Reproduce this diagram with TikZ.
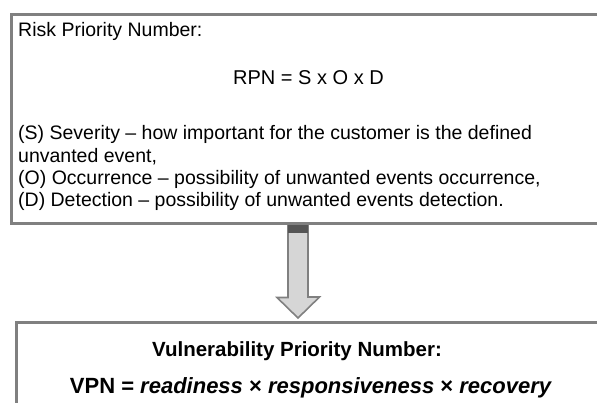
\documentclass[tikz,border=0pt]{standalone}
\usepackage{fontspec}
\setmainfont{Liberation Sans}
\usetikzlibrary{positioning,calc}
\definecolor{framegray}{RGB}{128,128,128}
\definecolor{shaftgray}{RGB}{214,214,214}
\definecolor{capgray}{RGB}{85,85,85}
\begin{document}
\begin{tikzpicture}[x=1pt,y=-1pt,
    box/.style={draw=framegray, line width=3pt, rectangle, anchor=north west, inner sep=0pt},
    txt/.style={font=\fontsize{19.5}{22.5}\selectfont, inner sep=0pt, anchor=base west},
    bigtxt/.style={font=\fontsize{21}{24}\selectfont\bfseries, inner sep=0pt, anchor=base},
    blockarrow/.style={draw=framegray, line width=1.6pt, fill=shaftgray, line join=miter}]
    \useasboundingbox (0,0) rectangle (597,403);
    \clip (0,0) rectangle (597,403);
    % the two frames (both run off the right edge)
    \node[box, minimum width=640pt, minimum height=208.5pt] (rpnbox) at (9.5,13.5) {};
    \node[box, minimum width=640pt, minimum height=120pt] (vpnbox) at (15,321.5) {};
    % risk priority number
    \node[txt] (rpntitle) at (18,37) {Risk Priority Number:};
    \node[txt, font=\fontsize{20}{22.5}\selectfont] (rpnformula) at (233,85) {RPN = S x O x D};
    \foreach \line [count=\i from 0] in {%
        {(S) Severity -- how important for the customer is the defined},
        {unvanted event,},
        {(O) Occurrence -- possibility of unwanted events occurrence,},
        {(D) Detection -- possibility of unwanted events detection.}}{
      \node[txt] (rpnline\i) at (18,140+22.3*\i) {\line};
    }
    % block arrow between the frames
    \coordinate (arrtop) at (298,225.5);
    \coordinate (arrtip) at (298,318);
    \draw[blockarrow] (arrtop) ++(-10,0) -- ++(0,72) -- ++(-11,0) -- (arrtip)
        -- ++(21.5,-21) -- ++(-11.5,0) -- ++(0,-71.5) -- cycle;
    \fill[capgray] (arrtop) ++(-10,0) rectangle ++(20,8);
    % vulnerability priority number
    \node[bigtxt, font=\fontsize{20.5}{24}\selectfont\bfseries] (vpntitle) at (297,356) {Vulnerability Priority Number:};
    \node[bigtxt, font=\fontsize{22}{24}\selectfont\bfseries] (vpnformula) at (311,393)
        {VPN = \textit{readiness} × \textit{responsiveness} × \textit{recovery}};
\end{tikzpicture}
\end{document}
